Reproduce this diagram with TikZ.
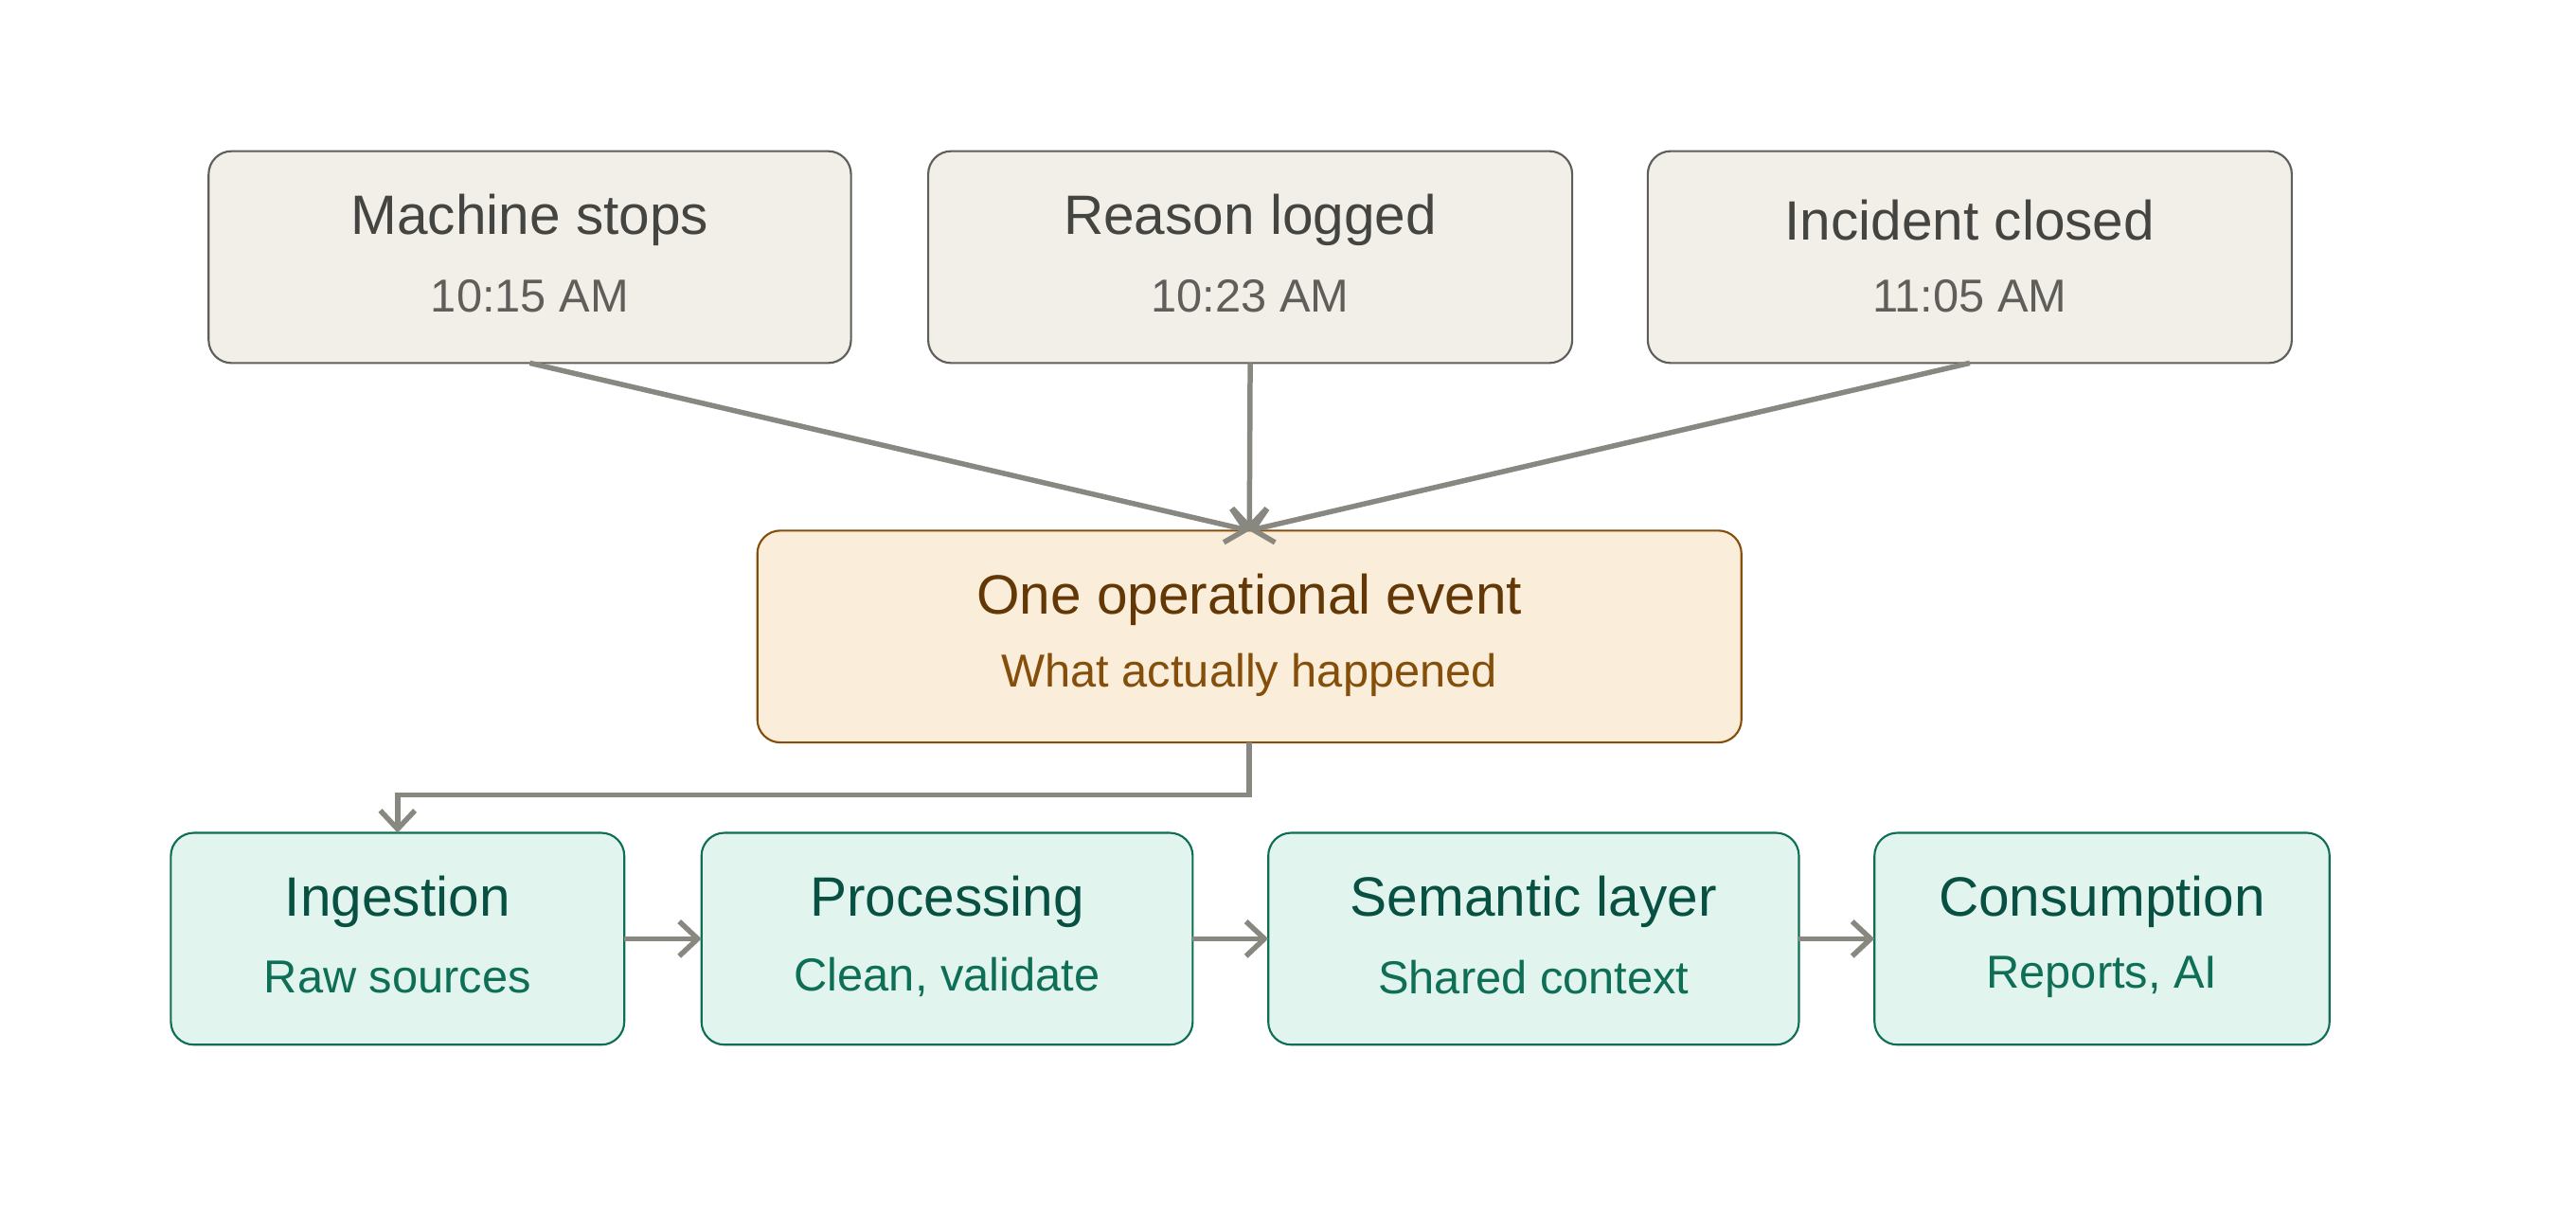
\documentclass[tikz,border=0pt]{standalone}
\usepackage{fontspec}
\setmainfont{Liberation Sans}
\usetikzlibrary{arrows.meta}
\definecolor{tfill}{HTML}{F1EFE8}\definecolor{tdraw}{HTML}{5F5E5A}
\definecolor{ttit}{HTML}{444441}\definecolor{tsub}{HTML}{5F5E5A}
\definecolor{mfill}{HTML}{FAEEDA}\definecolor{mdraw}{HTML}{854F0B}
\definecolor{mtit}{HTML}{633806}\definecolor{msub}{HTML}{854F0B}
\definecolor{gfill}{HTML}{E1F5EE}\definecolor{gdraw}{HTML}{0F6E56}
\definecolor{gtit}{HTML}{085041}\definecolor{gsub}{HTML}{0F6E56}
\definecolor{arr}{HTML}{888780}
\tikzset{
 box/.style={rounded corners=14pt*0.2845,line width=0.35pt,inner sep=0pt},
 conn/.style={draw=arr,line width=0.9pt,-{Straight Barb[length=3.2pt,width=6pt,line width=0.9pt]}},
}
\newcommand{\mybox}[9]{% name,x1,y1,x2,y2,fill,draw,title,sub (colors via style)
}
\begin{document}
\begin{tikzpicture}[x=0.01cm,y=-0.01cm]
\useasboundingbox (0,0) rectangle (1568,738);
% top boxes
\foreach \n/\a/\b/\t/\s in {m1/127/518/Machine stops/10:15 AM, m2/565/957/Reason logged/10:23 AM, m3/1003/1395/Incident closed/11:05 AM}{
 \draw[box,fill=tfill,draw=tdraw] (\a,92) rectangle (\b,221);
 \node[text=ttit,font=\fontsize{9.6}{11}\selectfont] at ({(\a+\b)/2},134) {\t};
 \node[text=tsub,font=\fontsize{8}{10}\selectfont] at ({(\a+\b)/2},180) {\s};
 \coordinate (\n) at ({(\a+\b)/2},221);
}
\draw[box,fill=mfill,draw=mdraw] (461,323) rectangle (1060,452);
\node[text=mtit,font=\fontsize{9.6}{11}\selectfont] (evt) at (760.5,365) {One operational event};
\node[text=msub,font=\fontsize{8}{10}\selectfont] at (760.5,411) {What actually happened};
\coordinate (evtT) at (760.5,323);
\coordinate (evtB) at (760.5,452);
\foreach \n/\a/\b/\t/\s in {g1/104/380/Ingestion/Raw sources, g2/427/726/Processing/{Clean, validate}, g3/772/1095/Semantic layer/Shared context, g4/1141/1418/Consumption/{Reports, AI}}{
 \draw[box,fill=gfill,draw=gdraw] (\a,507) rectangle (\b,636);
 \node[text=gtit,font=\fontsize{9.6}{11}\selectfont] at ({(\a+\b)/2},549) {\t};
 \node[text=gsub,font=\fontsize{8}{10}\selectfont] at ({(\a+\b)/2},595) {\s};
 \coordinate (\n L) at (\a,571.5);
 \coordinate (\n R) at (\b,571.5);
 \coordinate (\n T) at ({(\a+\b)/2},507);
}
\draw[conn] (m1) -- (evtT);
\draw[conn] (m2) -- (evtT);
\draw[conn] (m3) -- (evtT);
\draw[conn] (evtB) -- (760.5,484) -| (g1T);
\draw[conn] (g1R) -- (g2L);
\draw[conn] (g2R) -- (g3L);
\draw[conn] (g3R) -- (g4L);
\end{tikzpicture}
\end{document}
